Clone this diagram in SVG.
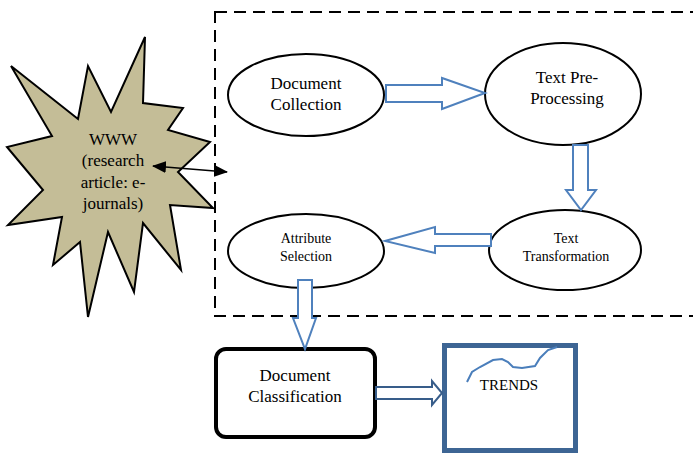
<svg xmlns="http://www.w3.org/2000/svg" width="693" height="458" viewBox="0 0 693 458">
<defs>
<style>
text{font-family:"Liberation Serif","Times New Roman",serif;fill:#000;text-anchor:middle}
.ell{fill:#fff;stroke:#000;stroke-width:2}
.blk{fill:#fff;stroke:#4f81bd;stroke-width:2;stroke-linejoin:miter}
.t17{font-size:17px}
.t13{font-size:14px}
</style>
<marker id="ah" viewBox="0 0 14 12" refX="13" refY="6" markerWidth="14" markerHeight="12" markerUnits="userSpaceOnUse" orient="auto-start-reverse"><path d="M0,0L14,6L0,12Z" fill="#000"/></marker>
</defs>
<rect width="693" height="458" fill="#fff"/>
<rect x="215" y="12" width="490" height="304" fill="none" stroke="#000" stroke-width="2" stroke-dasharray="12,7"/>
<g id="www">
<polygon points="11,66 78,119 88,66 111,112 145,37 143,103 183,108 168,130 210,142 178,172 213,208 170,205 181,270 143,223 134,292 108,232 88,317 80,242 53,265 62,217 8,225 43,190 7,147 52,136" fill="#c4bd97" stroke="#000" stroke-width="2" stroke-linejoin="miter"/>
<text class="t17" x="113" y="145">WWW</text>
<text class="t17" x="113" y="166">(research</text>
<text class="t17" x="113" y="188">article: e-</text>
<text class="t17" x="113" y="209">journals)</text>
</g>
<g id="doc-collection">
<ellipse class="ell" cx="306" cy="95" rx="78" ry="41"/>
<text class="t17" x="306" y="89">Document</text>
<text class="t17" x="306" y="110">Collection</text>
</g>
<g id="text-preprocessing">
<ellipse class="ell" cx="563" cy="94" rx="78" ry="51"/>
<text class="t17" x="567" y="83">Text Pre-</text>
<text class="t17" x="567" y="104">Processing</text>
</g>
<g id="text-transformation">
<ellipse class="ell" cx="565" cy="250" rx="76" ry="40"/>
<text class="t13" x="566" y="243">Text</text>
<text class="t13" x="566" y="261">Transformation</text>
</g>
<g id="attribute-selection">
<ellipse class="ell" cx="306" cy="251" rx="78" ry="37"/>
<text class="t13" x="306" y="243">Attribute</text>
<text class="t13" x="306" y="261">Selection</text>
</g>
<g id="doc-classification">
<rect x="216" y="349" width="159" height="88" rx="10" fill="#fff" stroke="#000" stroke-width="4"/>
<text class="t17" x="295" y="381">Document</text>
<text class="t17" x="295" y="402">Classification</text>
</g>
<g id="trends">
<rect x="444.5" y="345.5" width="131" height="105" fill="#fff" stroke="#3d6594" stroke-width="5"/>
<path d="M467,382 L472,372 L480,367 L493,360 L502,359 L508,362 L513,367 L522,368 L535,366 L540,358 L548,350 L557,347" fill="none" stroke="#4a7ebb" stroke-width="2"/>
<text x="509" y="390" style="font-size:15px">TRENDS</text>
</g>
<g id="connectors">
<line x1="153" y1="166" x2="227" y2="172" stroke="#000" stroke-width="1.5" marker-start="url(#ah)" marker-end="url(#ah)"/>
<path class="blk" d="M386,85 L442,85 L442,78 L485,93 L442,109 L442,102 L386,102 Z"/>
<path class="blk" d="M573,145 L588,145 L588,190 L596,190 L581,210 L566,190 L573,190 Z"/>
<path class="blk" d="M491,234 L435,234 L435,227 L385,241 L435,253 L435,246 L491,246 Z"/>
<path class="blk" d="M298,280 L312,280 L312,318 L316,318 L305,349 L293,318 L298,318 Z"/>
<path class="blk" style="stroke:#385d8a" d="M376,387 L432,387 L432,381 L442,393 L432,405 L432,399 L376,399 Z"/>
</g>
</svg>
